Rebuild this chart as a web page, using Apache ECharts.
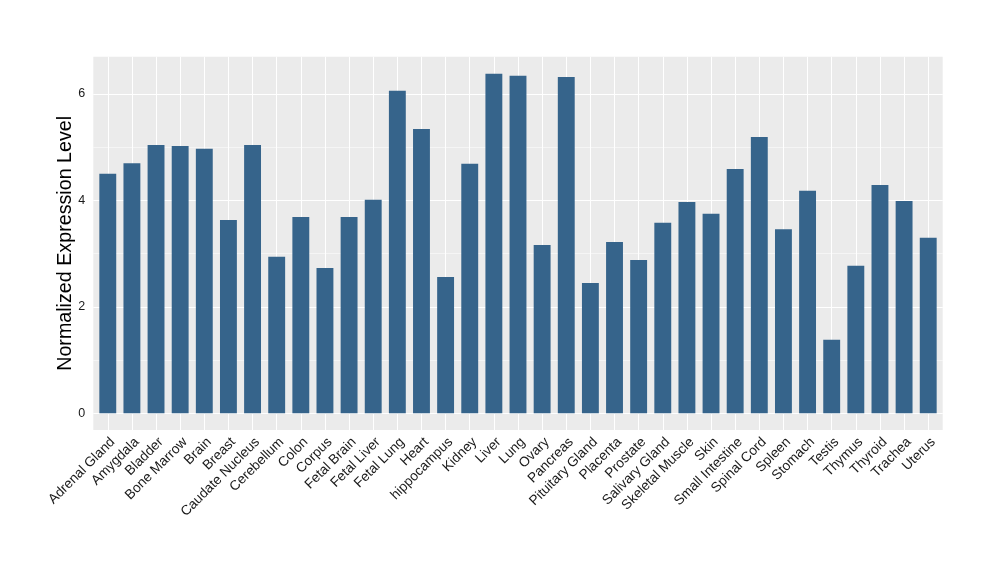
<!DOCTYPE html>
<html>
<head>
<meta charset="utf-8">
<script src="https://cdn.jsdelivr.net/npm/echarts@6/dist/echarts.min.js"></script>
<style>html,body{margin:0;padding:0;background:#fff}#c{width:1000px;height:580px}</style>
</head>
<body>
<div id="c"></div>
<script>
const categories = ["Adrenal Gland","Amygdala","Bladder","Bone Marrow","Brain","Breast","Caudate Nucleus","Cerebellum","Colon","Corpus","Fetal Brain","Fetal Liver","Fetal Lung","Heart","hippocampus","Kidney","Liver","Lung","Ovary","Pancreas","Pituitary Gland","Placenta","Prostate","Salivary Gland","Skeletal Muscle","Skin","Small Intestine","Spinal Cord","Spleen","Stomach","Testis","Thymus","Thyroid","Trachea","Uterus"];
const values = [4.50,4.70,5.04,5.02,4.97,3.63,5.04,2.94,3.69,2.73,3.69,4.01,6.06,5.34,2.56,4.69,6.38,6.34,3.16,6.32,2.45,3.22,2.88,3.58,3.97,3.75,4.59,5.19,3.46,4.18,1.38,2.77,4.29,3.99,3.30];
const yMajorTicks = [0,2,4,6];
const yMinorTicks = [1,3,5];
const yTitle = "Normalized Expression Level";

const catIdx = categories.map((c,i)=>i);
const gridLines = []
  .concat(catIdx.map(i=>({xAxis:i, lineStyle:{color:'#ffffff', width:1.07, type:'solid'}})))
  .concat(yMajorTicks.map(v=>({yAxis:v, lineStyle:{color:'#ffffff', width:1.07, type:'solid'}})))
  .concat(yMinorTicks.map(v=>({yAxis:v, lineStyle:{color:'#ffffff', width:0.53, type:'solid'}})));

const chart = echarts.init(document.getElementById('c'), null, {renderer:'canvas'});
chart.setOption({
  animation:false,
  backgroundColor:'#ffffff',
  textStyle:{fontFamily:'Liberation Sans, Arial, sans-serif'},
  grid:{left:93.3, right:57.3, top:56.7, bottom:150, show:true, backgroundColor:'#EBEBEB', borderWidth:0},
  xAxis:{
    type:'value', min:-0.6, max:categories.length-1+0.6,
    axisLine:{show:false},
    splitLine:{show:false},
    axisTick:{show:true, customValues:catIdx, length:4, lineStyle:{color:'#333333', width:1}},
    axisLabel:{show:true, customValues:catIdx, rotate:45, margin:5, fontSize:13.7, color:'#1a1a1a',
      align:'right', verticalAlign:'top',
      fontFamily:'Liberation Sans, Arial, sans-serif',
      formatter:v=>categories[Math.round(v)]}
  },
  yAxis:{
    type:'value', min:-0.314, max:6.70,
    name:yTitle, nameLocation:'middle', nameGap:18, nameMoveOverlap:false,
    nameTextStyle:{fontSize:19.7, color:'#000000', fontFamily:'Liberation Sans, Arial, sans-serif'},
    axisLine:{show:false},
    splitLine:{show:false},
    axisTick:{show:true, customValues:yMajorTicks, length:4, lineStyle:{color:'#333333', width:1}},
    axisLabel:{show:true, customValues:yMajorTicks, margin:8, fontSize:12.5, color:'#1a1a1a',
      fontFamily:'Liberation Sans, Arial, sans-serif'}
  },
  series:[{
    type:'bar',
    z:2,
    data:values.map((v,i)=>[i,v]),
    barWidth:'70%',
    itemStyle:{color:'#36648B'},
    markLine:{silent:true, z:1, symbol:['none','none'], label:{show:false}, emphasis:{disabled:true}, animation:false, data:gridLines}
  }]
});
</script>
</body>
</html>
